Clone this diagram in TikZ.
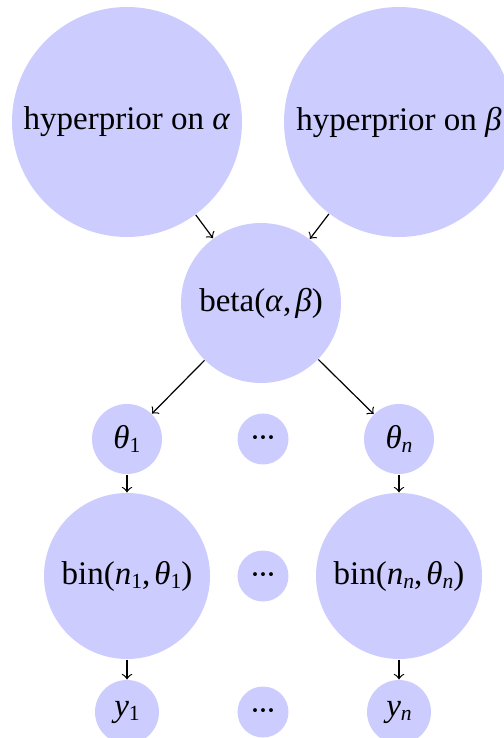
\documentclass[tikz,border=0pt]{standalone}
\usepackage{fontspec}
\setmainfont{Liberation Serif}
% italic variable and a lowered index, set in the text font
\newcommand\vb[1]{\textit{#1}}
\newcommand\lowidx[1]{\raisebox{-0.3ex}{\fontsize{7.2}{7.2}\selectfont #1}}
\newcommand\argsep{,\kern0.12em}
% three centred dots on a fixed pitch, with their centre on the node centre
\newcommand\onedot{\makebox[2.67pt]{·}}
\newcommand\gapdots{\raisebox{-0.29em}[0pt][0pt]{\onedot\onedot\onedot}}
\begin{document}
\begin{tikzpicture}[x=0.3333pt, y=-0.3333pt,
    var/.style={circle, fill=blue!20, inner sep=0pt, font=\fontsize{11}{13}\selectfont},
    big/.style={var, minimum size=230*0.3333pt},
    mid/.style={var, minimum size=160*0.3333pt},
    bin/.style={var, minimum size=166*0.3333pt},
    small/.style={var, minimum size=70*0.3333pt},
    obs/.style={var, minimum size=64*0.3333pt},
    gap/.style={var, minimum size=51*0.3333pt},
    link/.style={->}]
  \useasboundingbox (0,0) rectangle (504,738);
  % hyperpriors
  \node[big] (ha) at (127,122) {hyperprior on \vb{α}};
  \node[big] (hb) at (399,122) {hyperprior on \vb{β}};
  % population distribution
  \node[mid] (pop) at (261,303) {beta(\vb{α}\argsep\vb{β})};
  % group parameters
  \node[small] (t1) at (127,439) {\vb{θ}\lowidx{1}};
  \node[gap]   (td) at (263,439) {\gapdots};
  \node[small] (tn) at (399,439) {\vb{θ}\lowidx{\vb{n}}};
  % likelihoods
  \node[bin] (b1) at (127,576) {bin(\vb{n}\lowidx{1}\argsep\vb{θ}\lowidx{1})};
  \node[gap] (bd) at (263,576) {\gapdots};
  \node[bin] (bn) at (399,576) {bin(\vb{n}\lowidx{\vb{n}}\argsep\vb{θ}\lowidx{\vb{n}})};
  % observations
  \node[obs] (y1) at (127,712) {\vb{y}\lowidx{1}};
  \node[gap] (yd) at (263,712) {\gapdots};
  \node[obs] (yn) at (399,712) {\vb{y}\lowidx{\vb{n}}};
  % dependencies
  \draw[link] (ha) -- (pop);
  \draw[link] (hb) -- (pop);
  \draw[link] (pop) -- (t1);
  \draw[link] (pop) -- (tn);
  \draw[link] (t1) -- (b1);
  \draw[link] (tn) -- (bn);
  \draw[link] (b1) -- (y1);
  \draw[link] (bn) -- (yn);
\end{tikzpicture}
\end{document}
